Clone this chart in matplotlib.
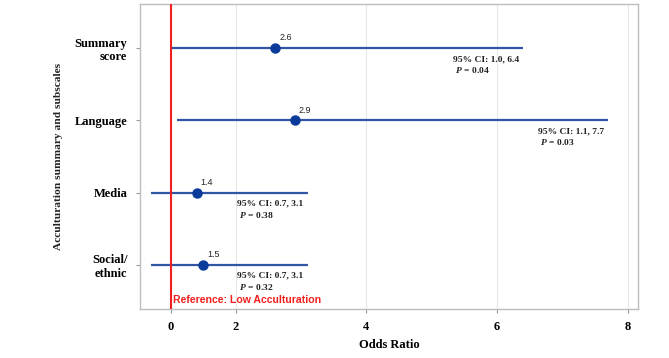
import matplotlib

matplotlib.use("Agg")
import matplotlib.pyplot as plt

categories = ["Summary\nscore", "Language", "Media", "Social/\nethnic"]
odds = [2.6, 2.9, 1.4, 1.5]
ci_low = [1.0, 1.1, 0.7, 0.7]
ci_high = [6.4, 7.7, 3.1, 3.1]
p_values = ["0.04", "0.03", "0.38", "0.32"]
tick_pos = [1, 2, 4, 6, 8]
tick_labels = ["0", "2", "4", "6", "8"]
reference = 1

plt.rcParams["mathtext.fontset"] = "custom"
plt.rcParams["mathtext.it"] = "Liberation Serif:style=italic:weight=bold"
plt.rcParams["mathtext.rm"] = "Liberation Serif:weight=bold"

serif = "Liberation Serif"
sans = "Liberation Sans"
line_c = "#2F55A4"
dot_c = "#0A3A9A"
frame_c = "#BDBDBD"

fig = plt.figure(figsize=(6.69, 3.58), dpi=100)
ax = fig.add_axes([0.209, 0.137, 0.745, 0.852])

ypos = list(range(len(categories), 0, -1))

for y, o, lo, hi, p in zip(ypos, odds, ci_low, ci_high, p_values):
    ax.plot([lo, hi], [y, y], color=line_c, lw=1.6, zorder=3, solid_capstyle="butt")
    ax.plot(o, y, "o", color=dot_c, ms=6.5, zorder=4)
    ax.annotate(f"{o:.1f}", (o, y), xytext=(3, 4), textcoords="offset points",
                ha="left", va="bottom", fontsize=6.5, family=sans, color="#222222")
    ax.annotate(f"95% CI: {lo:.1f}, {hi:.1f}\n $P$ = {p}", (hi, y), xytext=(-3, -5),
                textcoords="offset points", ha="right", va="top", multialignment="left",
                fontsize=6.8, family=serif, fontweight="bold", color="#222222",
                linespacing=1.25)

ax.axvline(reference, color="#F02020", lw=1.5, zorder=5)
ax.text(reference + 0.04, 0.52, "Reference: Low Acculturation", color="#F02020",
        fontsize=7.6, family=sans, fontweight="bold", ha="left", va="center", zorder=6)

ax.set_xlim(0.53, 8.16)
ax.set_ylim(0.39, 4.61)
ax.set_xticks(tick_pos)
ax.set_xticklabels(tick_labels, family=serif, fontweight="bold", fontsize=9)
ax.set_yticks(ypos)
ax.set_yticklabels(categories, family=serif, fontweight="bold", fontsize=9)
ax.grid(axis="x", color="#E8E8E8", lw=0.8, zorder=0)
ax.set_axisbelow(True)
for s in ax.spines.values():
    s.set_color(frame_c)
    s.set_linewidth(1.0)
ax.tick_params(axis="both", color="#999999", length=3, width=0.8, pad=6)

ax.set_xlabel("Odds Ratio", family=serif, fontweight="bold", fontsize=9, labelpad=4)
ax.set_ylabel("Acculturation summary and subscales", family=serif, fontweight="bold",
              fontsize=8.2, labelpad=8, color="#222222")

fig.savefig("out.png", dpi=100)
